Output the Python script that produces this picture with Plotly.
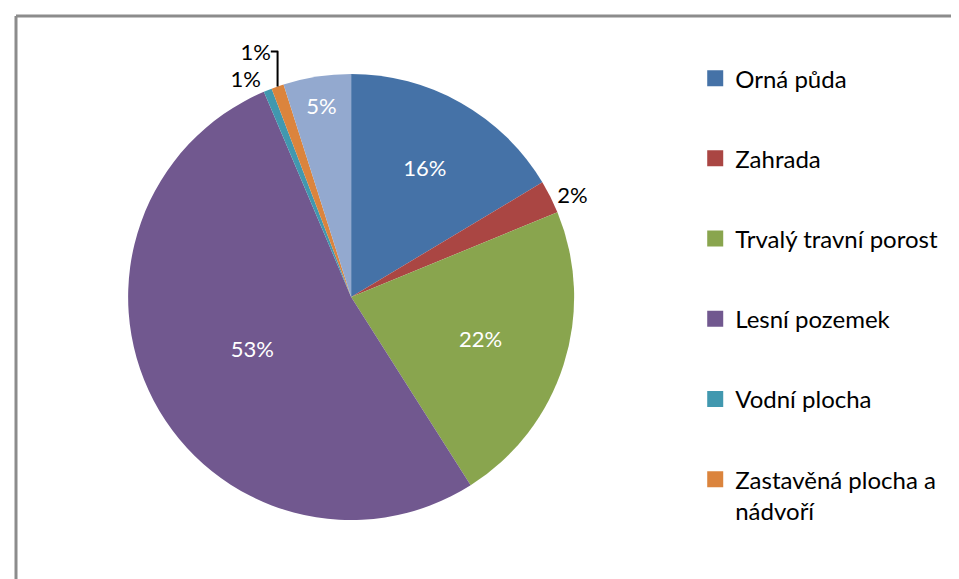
import plotly.graph_objects as go

# ── data ────────────────────────────────────────────────────────────────────
categories = [
    "Orná půda",
    "Zahrada",
    "Trvalý travní porost",
    "Lesní pozemek",
    "Vodní plocha",
    "Zastavěná plocha a nádvoří",
    "Ostatní plocha",
]
shares = [16.4, 2.4, 22.2, 52.6, 0.6, 0.9, 4.9]
colors = ["#4572A7", "#AA4643", "#89A54E", "#71588F", "#4198AF", "#DB843D", "#93A9CF"]
text_pos = ["inside", "outside", "inside", "inside", "outside", "outside", "inside"]
text_col = ["white", "black", "white", "white", "black", "black", "white"]

# legend labels (the last entry is cut off in the original, so only six show)
legend_labels = [
    "Orná půda",
    "Zahrada",
    "Trvalý travní porost",
    "Lesní pozemek",
    "Vodní plocha",
    "Zastavěná plocha a<br>nádvoří",
]

FONT = "Lato, Calibri, sans-serif"

fig = go.Figure()

fig.add_trace(go.Pie(
    labels=categories,
    values=shares,
    sort=False,
    direction="clockwise",
    rotation=0,
    marker=dict(colors=colors, line=dict(width=0)),
    textposition=text_pos,
    texttemplate="%{percent:.0%}",
    insidetextorientation="horizontal",
    insidetextfont=dict(family=FONT, size=22, color=text_col),
    outsidetextfont=dict(family=FONT, size=22, color="black"),
    showlegend=False,
    domain=dict(x=[0.0866, 0.629], y=[0.1157, 0.886]),
    hoverinfo="label+percent",
))

# dummy traces so the legend spacing can be controlled
for i, name in enumerate(legend_labels):
    fig.add_trace(go.Scatter(
        x=[None], y=[None],
        mode="markers",
        marker=dict(symbol="square", size=16, color=colors[i]),
        name=name,
        legendgroup=str(i),
        showlegend=True,
    ))

fig.update_layout(
    width=959,
    height=579,
    margin=dict(l=0, r=0, t=0, b=0),
    paper_bgcolor="white",
    plot_bgcolor="white",
    font=dict(family=FONT, size=24, color="black"),
    xaxis=dict(visible=False),
    yaxis=dict(visible=False),
    legend=dict(
        x=0.7166, y=0.917, xanchor="left", yanchor="top",
        tracegroupgap=46,
        valign="top",
        font=dict(family=FONT, size=24, color="black"),
    ),
    shapes=[
        dict(type="line", xref="paper", yref="paper",
             x0=8 / 959, x1=1, y0=1 - 8 / 579, y1=1 - 8 / 579,
             line=dict(color="#8C8C8C", width=3)),
        dict(type="line", xref="paper", yref="paper",
             x0=8 / 959, x1=8 / 959, y0=0, y1=1 - 8 / 579,
             line=dict(color="#8C8C8C", width=3)),
    ],
)

fig.write_html("out.html")
